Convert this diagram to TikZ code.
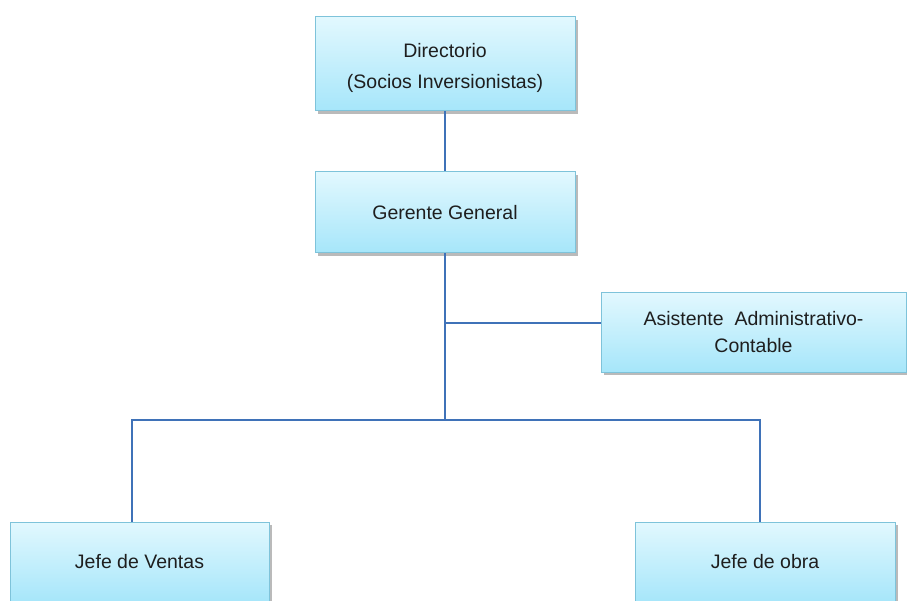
\documentclass[tikz,border=0pt]{standalone}
\usepackage{fontspec}
\setmainfont{Liberation Sans}
\usetikzlibrary{shadows}
\definecolor{boxtop}{HTML}{E2F8FE}
\definecolor{boxbot}{HTML}{A6E6FA}
\definecolor{boxline}{HTML}{7EC3DA}
\definecolor{conn}{HTML}{3F72B8}
\definecolor{txt}{HTML}{1E1E1E}
\tikzset{
  orgbox/.style={rectangle, draw=boxline, line width=1pt, top color=boxtop, bottom color=boxbot,
    align=center, inner sep=2pt, text=txt, font=\fontsize{19.5}{27}\selectfont,
    drop shadow={shadow xshift=2.5pt, shadow yshift=-3pt, fill=black!45, opacity=0.6}},
  conline/.style={draw=conn, line width=1.1pt}
}
\begin{document}
\begin{tikzpicture}[x=1pt,y=-1pt]
\useasboundingbox (0,0) rectangle (907,601);
\node[orgbox, minimum width=260pt, minimum height=94pt] (dir) at (445,64) {};
\node[text=txt, font=\fontsize{19.5}{27}\selectfont, align=center] (dirtext) at (445,67.5)
  {Directorio\\[4pt](Socios Inversionistas)};
\node[orgbox, minimum width=260pt, minimum height=81pt] (ger) at (445,212.5) {Gerente General};
\node[orgbox, minimum width=305pt, minimum height=79pt] (asi) at (753.5,332.5)
  {Asistente\ \ Administrativo-\\Contable};
\node[orgbox, minimum width=259pt, minimum height=80pt] (ven) at (139.5,562) {Jefe de Ventas};
\node[orgbox, minimum width=260pt, minimum height=80pt] (obr) at (765,562) {Jefe de obra};
\coordinate (j1) at (445,323);
\coordinate (j2) at (445,420);
\draw[conline] (dir.south) -- (ger.north);
\draw[conline] (ger.south) -- (j2);
\draw[conline] (j1) -- (j1 -| asi.west);
\draw[conline] ([xshift=-7.5pt]ven.north) |- (j2) -| ([xshift=-5pt]obr.north);
\end{tikzpicture}
\end{document}
